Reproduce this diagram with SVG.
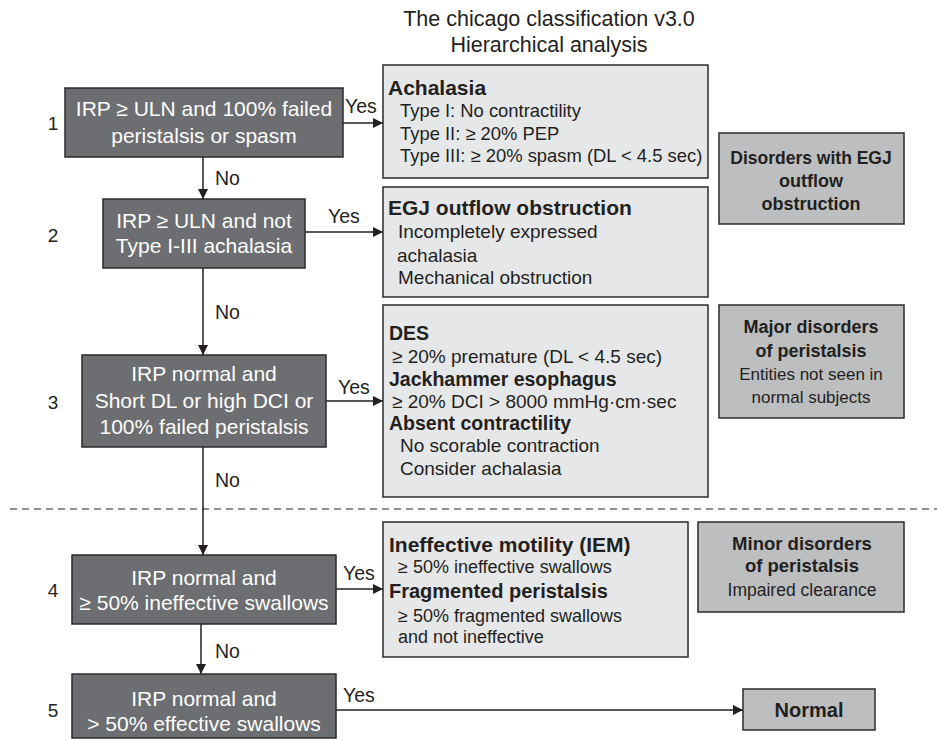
<svg xmlns="http://www.w3.org/2000/svg" width="937" height="741" viewBox="0 0 937 741">
<style>
text{font-family:"Liberation Sans",Arial,sans-serif;fill:#231f20}
.dark rect{fill:#6d6e71;stroke:#2b2b2b;stroke-width:1.5}
.dark text{fill:#ffffff;font-size:21px;text-anchor:middle}
.light rect{fill:#e6e7e8;stroke:#2b2b2b;stroke-width:1.5}
.cat rect{fill:#bcbec0;stroke:#2b2b2b;stroke-width:1.5}
.cat text{text-anchor:middle}
.b{font-weight:bold;font-size:21px}
.b2{font-weight:bold;font-size:19.5px}
.t{font-size:19px}
.t2{font-size:18px}
.cb{font-weight:bold;font-size:18px}
.ct{font-size:17px}
.lbl{font-size:19.5px}
.num{font-size:19px}
.conn line{stroke:#231f20;stroke-width:1.5}
.conn .dash{stroke-dasharray:7 5;stroke-width:1.2}
</style>
<defs>
<marker id="ah" viewBox="0 0 10 10" refX="10" refY="5" markerWidth="10" markerHeight="10" markerUnits="userSpaceOnUse" orient="auto">
<path d="M0,0 L10,5 L0,10 z" fill="#231f20"/>
</marker>
</defs>

<g id="title">
<text x="549" y="26" text-anchor="middle" style="font-size:21.5px">The chicago classification v3.0</text>
<text x="549" y="52" text-anchor="middle" style="font-size:21.5px">Hierarchical analysis</text>
</g>

<g id="numbers" class="num">
<text x="53" y="130" text-anchor="middle">1</text>
<text x="53" y="242" text-anchor="middle">2</text>
<text x="53" y="409" text-anchor="middle">3</text>
<text x="53" y="597" text-anchor="middle">4</text>
<text x="53" y="717" text-anchor="middle">5</text>
</g>

<g id="connectors" class="conn">
<line x1="343" y1="123" x2="383" y2="123" marker-end="url(#ah)"/>
<line x1="203" y1="157" x2="203" y2="199" marker-end="url(#ah)"/>
<line x1="305" y1="232" x2="383" y2="232" marker-end="url(#ah)"/>
<line x1="203" y1="268" x2="203" y2="355" marker-end="url(#ah)"/>
<line x1="326" y1="401" x2="383" y2="401" marker-end="url(#ah)"/>
<line x1="203" y1="447" x2="203" y2="555" marker-end="url(#ah)"/>
<line x1="336" y1="589" x2="383" y2="589" marker-end="url(#ah)"/>
<line x1="201" y1="624" x2="201" y2="674" marker-end="url(#ah)"/>
<line x1="336" y1="710" x2="743" y2="710" marker-end="url(#ah)"/>
<line class="dash" x1="10" y1="509" x2="937" y2="509"/>
<text class="lbl" x="345" y="113">Yes</text>
<text class="lbl" x="215" y="185">No</text>
<text class="lbl" x="328" y="223">Yes</text>
<text class="lbl" x="215" y="319">No</text>
<text class="lbl" x="338" y="394">Yes</text>
<text class="lbl" x="215" y="487">No</text>
<text class="lbl" x="343" y="580">Yes</text>
<text class="lbl" x="215" y="658">No</text>
<text class="lbl" x="343" y="702">Yes</text>
</g>

<g id="q1" class="dark">
<rect x="65" y="88" width="278" height="69"/>
<text x="204" y="116">IRP ≥ ULN and 100% failed</text>
<text x="204" y="143">peristalsis or spasm</text>
</g>
<g id="q2" class="dark">
<rect x="103" y="199" width="202" height="69"/>
<text x="204" y="228">IRP ≥ ULN and not</text>
<text x="204" y="253">Type I-III achalasia</text>
</g>
<g id="q3" class="dark">
<rect x="82" y="355" width="244" height="92"/>
<text x="204" y="381">IRP normal and</text>
<text x="204" y="408">Short DL or high DCI or</text>
<text x="204" y="434">100% failed peristalsis</text>
</g>
<g id="q4" class="dark">
<rect x="72" y="555" width="264" height="69"/>
<text x="204" y="585">IRP normal and</text>
<text x="204" y="610">≥ 50% ineffective swallows</text>
</g>
<g id="q5" class="dark">
<rect x="72" y="674" width="264" height="64"/>
<text x="204" y="706">IRP normal and</text>
<text x="204" y="731">&gt; 50% effective swallows</text>
</g>

<g id="achalasia" class="light">
<rect x="383" y="65" width="325" height="113"/>
<text class="b" x="388" y="95">Achalasia</text>
<text class="t" x="400" y="117" style="font-size:18.4px">Type I: No contractility</text>
<text class="t" x="400" y="140" style="font-size:18.4px">Type II: ≥ 20% PEP</text>
<text class="t" x="400" y="162" style="font-size:18.4px">Type III: ≥ 20% spasm (DL &lt; 4.5 sec)</text>
</g>
<g id="egj" class="light">
<rect x="383" y="187" width="325" height="110"/>
<text class="b" x="388" y="215">EGJ outflow obstruction</text>
<text class="t" x="398" y="238">Incompletely expressed</text>
<text class="t" x="397" y="262">achalasia</text>
<text class="t" x="398" y="284">Mechanical obstruction</text>
</g>
<g id="major" class="light">
<rect x="383" y="305" width="325" height="192"/>
<text class="b2" x="389" y="340">DES</text>
<text class="t" x="392" y="363">≥ 20% premature (DL &lt; 4.5 sec)</text>
<text class="b2" x="389" y="386">Jackhammer esophagus</text>
<text class="t" x="392" y="408">≥ 20% DCI &gt; 8000 mmHg·cm·sec</text>
<text class="b2" x="389" y="430">Absent contractility</text>
<text class="t" x="400" y="452">No scorable contraction</text>
<text class="t" x="400" y="475">Consider achalasia</text>
</g>
<g id="minor" class="light">
<rect x="383" y="522" width="305" height="135"/>
<text class="b" x="389" y="552">Ineffective motility (IEM)</text>
<text class="t2" x="398" y="573">≥ 50% ineffective swallows</text>
<text class="b" x="389" y="598" style="font-size:20px">Fragmented peristalsis</text>
<text class="t2" x="398" y="622">≥ 50% fragmented swallows</text>
<text class="t2" x="398" y="643">and not ineffective</text>
</g>

<g id="cat-egj" class="cat">
<rect x="719" y="133" width="185" height="91"/>
<text class="cb" x="811" y="164" style="font-size:17.5px">Disorders with EGJ</text>
<text class="cb" x="811" y="187">outflow</text>
<text class="cb" x="811" y="210">obstruction</text>
</g>
<g id="cat-major" class="cat">
<rect x="719" y="305" width="185" height="113"/>
<text class="cb" x="811" y="333">Major disorders</text>
<text class="cb" x="811" y="357">of peristalsis</text>
<text class="ct" x="811" y="380">Entities not seen in</text>
<text class="ct" x="811" y="403">normal subjects</text>
</g>
<g id="cat-minor" class="cat">
<rect x="698" y="522" width="206" height="90"/>
<text class="cb" x="802" y="550" style="font-size:18.5px">Minor disorders</text>
<text class="cb" x="802" y="572" style="font-size:18.5px">of peristalsis</text>
<text class="ct" x="802" y="596" style="font-size:17.5px">Impaired clearance</text>
</g>
<g id="normal" class="cat">
<rect x="743" y="689" width="132" height="41"/>
<text class="cb" x="809" y="717" style="font-size:20px">Normal</text>
</g>
</svg>
